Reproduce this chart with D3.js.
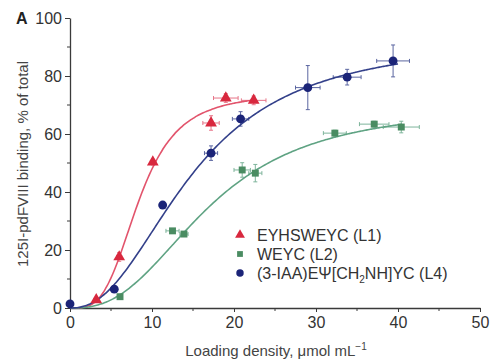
<!DOCTYPE html>
<html>
<head>
<meta charset="utf-8">
<script src="https://cdn.jsdelivr.net/npm/d3@7"></script>
<style>
  body { margin: 0; background: #fff; }
  svg { font-family: "Liberation Sans", Arial, sans-serif; }
</style>
</head>
<body>
<div id="chart"></div>
<script>
// data
var l1X = [3.2, 6.0, 10.1, 17.2, 19.0, 22.4]
var l1Y = [2.8, 17.6, 50.3, 63.8, 72.4, 71.6]
var l1XErr = [0.3, 0.3, 0.3, 1.0, 1.5, 1.5]
var l1YErr = [0.5, 1.5, 1.0, 2.5, 1.5, 1.5]

var l2X = [6.1, 12.5, 13.9, 21.0, 22.6, 32.3, 37.1, 40.4]
var l2Y = [3.9, 26.6, 25.5, 47.6, 46.5, 60.3, 63.4, 62.4]
var l2XErr = [0.3, 0.8, 0.5, 1.0, 0.8, 1.4, 1.8, 2.2]
var l2YErr = [0.5, 0.8, 0.8, 2.5, 3.0, 1.0, 1.0, 2.0]

var l4X = [0, 5.4, 11.3, 17.2, 20.8, 29.0, 33.8, 39.4]
var l4Y = [1.4, 6.5, 35.5, 53.4, 65.2, 76.0, 79.6, 85.2]
var l4XErr = [0, 0.3, 0.3, 0.8, 1.0, 1.5, 1.7, 2.0]
var l4YErr = [0.5, 0.5, 0.8, 2.5, 2.5, 7.6, 2.7, 5.5]

// fitted curve parameters (max, half point, slope, last x)
var fitL1 = [74, 8.4, 3.5, 22.5]
var fitL2 = [70, 17, 2.6, 40.5]
var fitL4 = [93, 15, 2.3, 40]

var xTicks = [0, 10, 20, 30, 40, 50]
var yTicks = [0, 20, 40, 60, 80, 100]
var legendNames = ['EYHSWEYC (L1)', 'WEYC (L2)', '(3-IAA)EΨ[CH2NH]YC (L4)']

var W = 490, H = 363
var margin = {top: 18, right: 10, bottom: 55, left: 70}
var svg = d3.select('#chart').append('svg').attr('width', W).attr('height', H)

var x = d3.scaleLinear().domain([0, 50]).range([margin.left, 480])
var y = d3.scaleLinear().domain([0, 100]).range([308, margin.top])

var axisColor = '#3a3a3a'

// axes
var xAxis = svg.append('g').attr('transform', 'translate(0,308)')
    .call(d3.axisBottom(x).tickValues(xTicks).tickSize(4).tickPadding(5).tickSizeOuter(0))
xAxis.append('g').selectAll('line').data(d3.range(5, 50, 10)).enter().append('line')
    .attr('x1', d => x(d)).attr('x2', d => x(d)).attr('y1', 0).attr('y2', 3)
    .attr('stroke', axisColor)

var yAxis = svg.append('g').attr('transform', 'translate(70,0)')
    .call(d3.axisLeft(y).tickValues(yTicks).tickSize(5).tickPadding(3).tickSizeOuter(0))
yAxis.append('g').selectAll('line').data(d3.range(10, 100, 20)).enter().append('line')
    .attr('y1', d => y(d)).attr('y2', d => y(d)).attr('x1', 0).attr('x2', -3)
    .attr('stroke', axisColor)

svg.selectAll('.domain').attr('stroke', axisColor).attr('stroke-width', 1.3)
svg.selectAll('.tick line').attr('stroke', axisColor)
svg.selectAll('.tick text').attr('font-size', '16px').attr('fill', '#333')
    .attr('font-family', '"Liberation Sans", Arial, sans-serif')

svg.append('text').attr('x', 16).attr('y', 24).attr('font-size', '16px')
    .attr('font-weight', 'bold').attr('fill', '#222').text('A')

// axis titles
var xt = svg.append('text').attr('x', 276).attr('y', 356).attr('text-anchor', 'middle')
    .attr('font-size', '15px').attr('fill', '#444')
xt.append('tspan').text('Loading density, μmol mL')
xt.append('tspan').attr('dy', -6).attr('font-size', '10px').text('−1')

svg.append('text').attr('transform', 'translate(28,164) rotate(-90)')
    .attr('text-anchor', 'middle').attr('font-size', '15px').attr('fill', '#444')
    .text('125I-pdFVIII binding, % of total')

var series = [
    {xs: l1X, ys: l1Y, xe: l1XErr, ye: l1YErr, fit: fitL1, color: '#d8283e', line: '#e2546c', shape: d3.symbolTriangle, size: 60},
    {xs: l2X, ys: l2Y, xe: l2XErr, ye: l2YErr, fit: fitL2, color: '#4a8c62', line: '#5fa383', shape: d3.symbolSquare, size: 48},
    {xs: l4X, ys: l4Y, xe: l4XErr, ye: l4YErr, fit: fitL4, color: '#1b2478', line: '#33408a', shape: d3.symbolCircle, size: 62}
]

var line = d3.line().x(d => x(d[0])).y(d => y(d[1])).curve(d3.curveBasis)

series.forEach(function(s) {
    var f = s.fit
    var pts = d3.range(0, f[3] + 0.001, 0.25).map(function(v) {
        var r = Math.pow(v / f[1], f[2])
        return [v, f[0] * r / (1 + r)]
    })
    svg.append('path').datum(pts).attr('d', line)
        .attr('fill', 'none').attr('stroke', s.line).attr('stroke-width', 1.6)
})

series.forEach(function(s) {
    var g = svg.append('g')
    var idx = d3.range(s.xs.length)
    var eb = g.selectAll('g.eb').data(idx).enter().append('g')
        .attr('stroke', s.line).attr('stroke-width', 1).attr('opacity', 0.8)
    // horizontal
    eb.append('line')
        .attr('x1', i => x(s.xs[i] - s.xe[i])).attr('x2', i => x(s.xs[i] + s.xe[i]))
        .attr('y1', i => y(s.ys[i])).attr('y2', i => y(s.ys[i]))
    eb.append('line')
        .attr('x1', i => x(s.xs[i] - s.xe[i])).attr('x2', i => x(s.xs[i] - s.xe[i]))
        .attr('y1', i => y(s.ys[i]) - 2).attr('y2', i => y(s.ys[i]) + 2)
    eb.append('line')
        .attr('x1', i => x(s.xs[i] + s.xe[i])).attr('x2', i => x(s.xs[i] + s.xe[i]))
        .attr('y1', i => y(s.ys[i]) - 2).attr('y2', i => y(s.ys[i]) + 2)
    // vertical
    eb.append('line')
        .attr('x1', i => x(s.xs[i])).attr('x2', i => x(s.xs[i]))
        .attr('y1', i => y(s.ys[i] - s.ye[i])).attr('y2', i => y(s.ys[i] + s.ye[i]))
    eb.append('line')
        .attr('x1', i => x(s.xs[i]) - 2).attr('x2', i => x(s.xs[i]) + 2)
        .attr('y1', i => y(s.ys[i] - s.ye[i])).attr('y2', i => y(s.ys[i] - s.ye[i]))
    eb.append('line')
        .attr('x1', i => x(s.xs[i]) - 2).attr('x2', i => x(s.xs[i]) + 2)
        .attr('y1', i => y(s.ys[i] + s.ye[i])).attr('y2', i => y(s.ys[i] + s.ye[i]))

    g.selectAll('path.pt').data(idx).enter().append('path')
        .attr('d', d3.symbol().type(s.shape).size(s.size))
        .attr('transform', i => 'translate(' + x(s.xs[i]) + ',' + y(s.ys[i]) + ')')
        .attr('fill', s.color)
})

// legend
var legend = svg.selectAll('.legend').data(series).enter().append('g')
    .attr('class', 'legend')
    .attr('transform', (d, i) => 'translate(240,' + (235 + i * 19) + ')')
legend.append('path')
    .attr('d', d => d3.symbol().type(d.shape).size(d.size * 0.7)())
    .attr('fill', d => d.color)
var lt = legend.append('text').attr('x', 17).attr('y', 5.5)
    .attr('font-size', '16px').attr('fill', '#333')
lt.each(function(d, i) {
    var t = d3.select(this)
    if (i < 2) { t.text(legendNames[i]); return }
    var parts = legendNames[i].split('CH2')
    t.append('tspan').text(parts[0] + 'CH')
    t.append('tspan').attr('dy', 4).attr('font-size', '10px').text('2')
    t.append('tspan').attr('dy', -4).text(parts[1])
})
</script>
</body>
</html>
